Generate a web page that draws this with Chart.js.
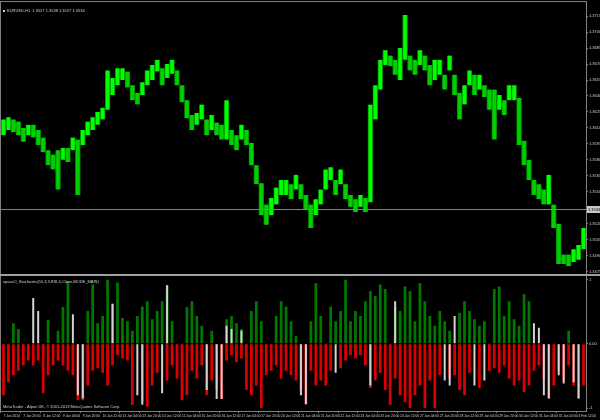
<!DOCTYPE html>
<html>
<head>
<meta charset="utf-8">
<script src="https://cdn.jsdelivr.net/npm/chart.js@4.4.1/dist/chart.umd.min.js"></script>
<style>
html, body { margin: 0; padding: 0; background: #000; }
#wrap { position: relative; width: 600px; height: 420px; background: #000; overflow: hidden; }
#price { position: absolute; left: 0; top: 0; }
#osc { position: absolute; left: 0; top: 276px; }
</style>
</head>
<body>
<div id="wrap">
  <canvas id="price" width="600" height="276"></canvas>
  <canvas id="osc" width="600" height="144"></canvas>
</div>
<script>
// EURUSD H1, one bucket = 4 hours, from 7 Jan 2014 04:00
var timeLabels = ['7 Jan 2014', '7 Jan 20:00', '8 Jan 12:00', '9 Jan 04:00', '9 Jan 20:00', '10 Jan 12:00',
  '13 Jan 04:00', '13 Jan 20:00', '14 Jan 12:00', '15 Jan 04:00', '15 Jan 20:00', '16 Jan 12:00',
  '17 Jan 04:00', '17 Jan 20:00', '20 Jan 12:00', '21 Jan 04:00', '21 Jan 20:00', '22 Jan 12:00',
  '23 Jan 04:00', '23 Jan 20:00', '24 Jan 12:00', '27 Jan 04:00', '27 Jan 20:00', '28 Jan 12:00',
  '29 Jan 04:00', '29 Jan 20:00', '30 Jan 12:00', '31 Jan 04:00', '31 Jan 20:00', '3 Feb 12:00'];

var priceTicks = [1.3475, 1.3490, 1.3505, 1.3520, 1.3535, 1.3550, 1.3565, 1.3580, 1.3595,
  1.3610, 1.3625, 1.3640, 1.3655, 1.3670, 1.3685, 1.3700, 1.3715];

var oscTicks = [1, 0, -1];

var highs = [1.3618, 1.3620, 1.3618, 1.3616, 1.3610, 1.3613, 1.3613, 1.3608, 1.3601, 1.3589,
  1.3585, 1.3589, 1.3591, 1.3591, 1.3601, 1.3599, 1.3608, 1.3616, 1.3620, 1.3625,
  1.3629, 1.3664, 1.3657, 1.3666, 1.3666, 1.3663, 1.3650, 1.3643, 1.3653, 1.3664,
  1.3669, 1.3674, 1.3666, 1.3670, 1.3674, 1.3664, 1.3650, 1.3636, 1.3622, 1.3624,
  1.3632, 1.3618, 1.3622, 1.3615, 1.3613, 1.3636, 1.3608, 1.3603, 1.3613, 1.3608,
  1.3596, 1.3575, 1.3558, 1.3538, 1.3544, 1.3554, 1.3561, 1.3561, 1.3557, 1.3566,
  1.3557, 1.3547, 1.3538, 1.3543, 1.3552, 1.3571, 1.3573, 1.3561, 1.3571, 1.3557,
  1.3547, 1.3543, 1.3547, 1.3544, 1.3632, 1.3650, 1.3674, 1.3683, 1.3678, 1.3674,
  1.3685, 1.3716, 1.3678, 1.3674, 1.3683, 1.3678, 1.3669, 1.3674, 1.3674, 1.3660,
  1.3678, 1.3660, 1.3643, 1.3650, 1.3664, 1.3660, 1.3660, 1.3650, 1.3646, 1.3646,
  1.3641, 1.3636, 1.3650, 1.3650, 1.3638, 1.3598, 1.3580, 1.3561, 1.3557, 1.3552,
  1.3566, 1.3538, 1.3520, 1.3491, 1.3491, 1.3496, 1.3500, 1.3516];

var lows = [1.3603, 1.3608, 1.3606, 1.3603, 1.3597, 1.3603, 1.3601, 1.3594, 1.3587, 1.3575,
  1.3571, 1.3552, 1.3580, 1.3578, 1.3589, 1.3547, 1.3594, 1.3603, 1.3608, 1.3613,
  1.3618, 1.3627, 1.3641, 1.3650, 1.3655, 1.3648, 1.3636, 1.3632, 1.3641, 1.3650,
  1.3655, 1.3663, 1.3650, 1.3657, 1.3661, 1.3650, 1.3634, 1.3619, 1.3608, 1.3613,
  1.3618, 1.3603, 1.3608, 1.3603, 1.3599, 1.3599, 1.3594, 1.3589, 1.3599, 1.3594,
  1.3575, 1.3557, 1.3528, 1.3519, 1.3528, 1.3538, 1.3547, 1.3547, 1.3543, 1.3552,
  1.3543, 1.3533, 1.3516, 1.3528, 1.3538, 1.3552, 1.3561, 1.3547, 1.3557, 1.3543,
  1.3536, 1.3531, 1.3536, 1.3531, 1.3540, 1.3618, 1.3646, 1.3669, 1.3668, 1.3660,
  1.3655, 1.3674, 1.3664, 1.3660, 1.3669, 1.3664, 1.3650, 1.3655, 1.3660, 1.3646,
  1.3664, 1.3641, 1.3618, 1.3632, 1.3650, 1.3641, 1.3646, 1.3639, 1.3627, 1.3599,
  1.3627, 1.3622, 1.3636, 1.3636, 1.3594, 1.3575, 1.3561, 1.3547, 1.3543, 1.3538,
  1.3538, 1.3516, 1.3482, 1.3482, 1.3480, 1.3484, 1.3486, 1.3496];

var bidPrice = 1.3534;

// oscillator histogram: green above zero, red below, silver second buffer
var upVals = [null, null, 0.32, 0.23, null, null, null, null, null, 0.37,
  null, 0.2, 0.57, 0.97, null, null, null, 0.51, 0.92, 0.32,
  0.43, 1.0, 0.62, 0.95, 0.4, 0.35, 0.2, 0.43, 0.58, 0.66,
  0.38, 0.51, 0.66, 0.91, 0.35, null, null, 0.57, 0.66, 0.43,
  0.28, null, 0.2, null, null, 0.38, 0.43, 0.32, 0.23, null,
  0.51, 0.66, 0.35, null, null, 0.43, 0.66, 0.58, 0.35, 0.12,
  null, null, 0.35, 0.94, 0.43, null, 0.58, 0.35, 0.51, 1.0,
  0.35, 0.51, 0.43, 0.66, 0.82, 0.74, 0.92, 0.85, null, 0.58,
  0.51, 0.89, 0.82, 0.35, 0.94, 0.66, 0.43, 0.28, 0.51, 0.35,
  0.2, null, 0.48, 0.66, 0.51, 0.38, 0.28, 0.35, null, 0.85,
  0.89, 0.43, 0.66, 0.38, 0.28, 0.77, 0.66, null, null, null,
  null, null, null, null, 0.2, null, null, null];

var downVals = [-0.8, -0.6, -0.49, -0.42, -0.34, -0.26, -0.34, -0.26, -0.77, -0.49,
  -0.34, -0.26, -0.34, -0.42, -0.49, -0.88, -0.88, -0.65, -0.42, -0.38,
  -0.45, -0.65, -0.34, -0.18, -0.23, -0.26, -0.95, null, -0.9, -0.98,
  -0.65, -0.45, null, -0.57, -0.34, -0.54, -0.88, -0.8, -0.42, -0.54,
  -0.34, -0.8, -0.57, -0.72, -0.86, -0.26, -0.18, -0.29, -0.23, -0.72,
  -0.8, -0.65, -1.0, -0.49, -0.42, -0.34, -0.54, -0.42, -0.49, -0.57,
  -0.72, -0.94, -0.42, -0.65, -0.57, -0.65, -0.42, null, -0.38, -0.26,
  -0.18, -0.23, -0.18, -0.34, -0.69, -0.57, -0.45, -0.72, -0.95, -0.54,
  -0.8, -0.91, -1.0, -0.8, -0.65, -1.0, -0.57, -1.0, -0.49, null,
  -0.54, -0.49, -0.72, -0.8, -0.45, null, -0.69, null, -0.42, -0.38,
  -0.45, -0.34, -0.54, -0.65, -0.57, -0.75, -0.65, -0.42, -0.34, -0.54,
  -0.85, -0.65, -0.42, -0.57, -0.34, -0.65, -0.85, -0.65];

var silverVals = [null, null, null, null, null, null, 0.71, 0.51, null, null,
  null, null, null, null, 0.46, -0.8, -0.85, null, null, null,
  null, null, 0.62, null, null, null, null, -0.8, -0.95, null,
  null, null, -0.77, 0.91, null, null, null, null, null, null,
  null, -0.72, null, -0.86, -0.86, 0.28, 0.23, null, 0.2, null,
  null, null, null, null, null, null, null, null, null, null,
  -0.8, -0.94, null, null, null, null, null, -0.45, null, null,
  null, null, null, null, -0.65, null, null, null, null, 0.66,
  null, null, null, null, null, null, null, null, null, -0.57,
  -0.65, 0.43, null, null, null, -0.65, null, -0.57, null, null,
  null, null, null, null, null, null, null, 0.32, 0.25, -0.8,
  -0.85, null, -0.49, -0.62, null, -0.6, -0.85, null];

var bucketLabels = highs.map(function (h, i) { return i % 4 === 0 ? timeLabels[i / 4] : ''; });

// lime when the bucket moved up, a bit darker when it moved down
var barColors = highs.map(function (h, i) {
  if (i === 0) return '#00ff00';
  return (h + lows[i]) >= (highs[i - 1] + lows[i - 1]) ? '#00ff00' : '#00d000';
});

Chart.defaults.font.family = '"Liberation Sans Narrow", "Liberation Sans", sans-serif';
Chart.defaults.color = '#c8c8c8';

var GRAY = '#808080';
var TXT = '#d0d0d0';
var SMALL = '4px "Liberation Sans Narrow", "Liberation Sans", sans-serif';

var priceDecor = {
  id: 'priceDecor',
  afterDraw: function (chart) {
    var ctx = chart.ctx;
    var area = chart.chartArea;
    ctx.save();
    ctx.fillStyle = GRAY;
    ctx.fillRect(0, 1, 587, 1);        // top frame
    ctx.fillRect(0, 1, 1, 275);        // left frame
    ctx.fillRect(586, 1, 1, 275);      // price axis line
    ctx.fillStyle = '#a0a0a0';
    ctx.fillRect(0, 274, 600, 2);      // window separator

    // bid line
    var by = Math.round(chart.scales.y.getPixelForValue(bidPrice)) + 0.5;
    ctx.strokeStyle = GRAY;
    ctx.lineWidth = 1;
    ctx.beginPath();
    ctx.moveTo(area.left, by);
    ctx.lineTo(area.right, by);
    ctx.stroke();
    ctx.fillStyle = '#c8c8c8';
    ctx.fillRect(587, by - 3.5, 13, 7);
    ctx.fillStyle = '#000';
    ctx.font = SMALL;
    ctx.textBaseline = 'middle';
    ctx.fillText(bidPrice.toFixed(4), 588, by);

    // symbol header
    ctx.fillStyle = TXT;
    ctx.fillRect(3, 10, 2, 2);
    ctx.fillText('EURUSD,H1  1.3527 1.3538 1.3527 1.3534', 7, 11);
    ctx.restore();
  }
};

var oscDecor = {
  id: 'oscDecor',
  afterDraw: function (chart) {
    var ctx = chart.ctx;
    ctx.save();
    ctx.fillStyle = GRAY;
    ctx.fillRect(0, 0, 1, 136);
    ctx.fillRect(586, 0, 1, 136);
    ctx.fillStyle = TXT;
    ctx.font = SMALL;
    ctx.textBaseline = 'middle';
    ctx.fillText('xpassO_Stochastic(50,3,3,RSI,4,Close,MODE_MAIN)', 3, 6);
    ctx.fillText('MetaTrader - Alpari UK, \u00a9 2001-2013 MetaQuotes Software Corp.', 3, 131);
    ctx.restore();
  }
};

new Chart(document.getElementById('price'), {
  type: 'bar',
  data: {
    labels: bucketLabels,
    datasets: [{
      data: lows.map(function (l, i) { return [l, highs[i]]; }),
      backgroundColor: barColors,
      borderColor: '#008c00',
      borderWidth: { left: 1, right: 1, top: 0, bottom: 0 },
      borderSkipped: false,
      barPercentage: 1,
      categoryPercentage: 1
    }]
  },
  options: {
    responsive: false,
    animation: false,
    layout: { padding: { top: 3, left: 1, bottom: 3, right: 0 } },
    plugins: { legend: { display: false }, tooltip: { enabled: false } },
    scales: {
      x: { display: false },
      y: {
        position: 'right',
        min: 1.3474,
        max: 1.3727,
        afterFit: function (s) { s.width = 14; },
        afterBuildTicks: function (s) { s.ticks = priceTicks.map(function (v) { return { value: v }; }); },
        ticks: { color: TXT, font: { size: 4 }, padding: 1, callback: function (v) { return v.toFixed(4); } },
        grid: { display: true, drawOnChartArea: false, drawTicks: true, tickLength: 2, color: GRAY },
        border: { color: GRAY, width: 1 }
      }
    }
  },
  plugins: [priceDecor]
});

new Chart(document.getElementById('osc'), {
  type: 'bar',
  data: {
    labels: bucketLabels,
    datasets: [
      { data: silverVals, backgroundColor: '#d4d4d4', grouped: false, barPercentage: 0.4, categoryPercentage: 1 },
      { data: upVals, backgroundColor: '#007800', grouped: false, barPercentage: 0.55, categoryPercentage: 1 },
      { data: downVals, backgroundColor: '#dc0000', grouped: false, barPercentage: 0.55, categoryPercentage: 1 }
    ]
  },
  options: {
    responsive: false,
    animation: false,
    layout: { padding: { top: 2, left: 1, bottom: 0, right: 0 } },
    plugins: { legend: { display: false }, tooltip: { enabled: false } },
    scales: {
      x: {
        afterFit: function (s) { s.height = 9; },
        ticks: { color: TXT, font: { size: 3.3 }, padding: 1, autoSkip: false, maxRotation: 0, minRotation: 0, align: 'start' },
        grid: {
          display: true, drawOnChartArea: false, drawTicks: true, tickLength: 2,
          color: function (c) { return c.tick && c.tick.label ? GRAY : 'rgba(0,0,0,0)'; }
        },
        border: { color: GRAY, width: 1 }
      },
      y: {
        position: 'right',
        min: -1.046,
        max: 1,
        afterFit: function (s) { s.width = 14; },
        afterBuildTicks: function (s) { s.ticks = oscTicks.map(function (v) { return { value: v }; }); },
        ticks: { color: TXT, font: { size: 4 }, padding: 1, callback: function (v) { return v === 0 ? '0.00' : String(v); } },
        grid: { display: true, drawOnChartArea: false, drawTicks: true, tickLength: 2, color: GRAY },
        border: { color: GRAY, width: 1 }
      }
    }
  },
  plugins: [oscDecor]
});
</script>
</body>
</html>
